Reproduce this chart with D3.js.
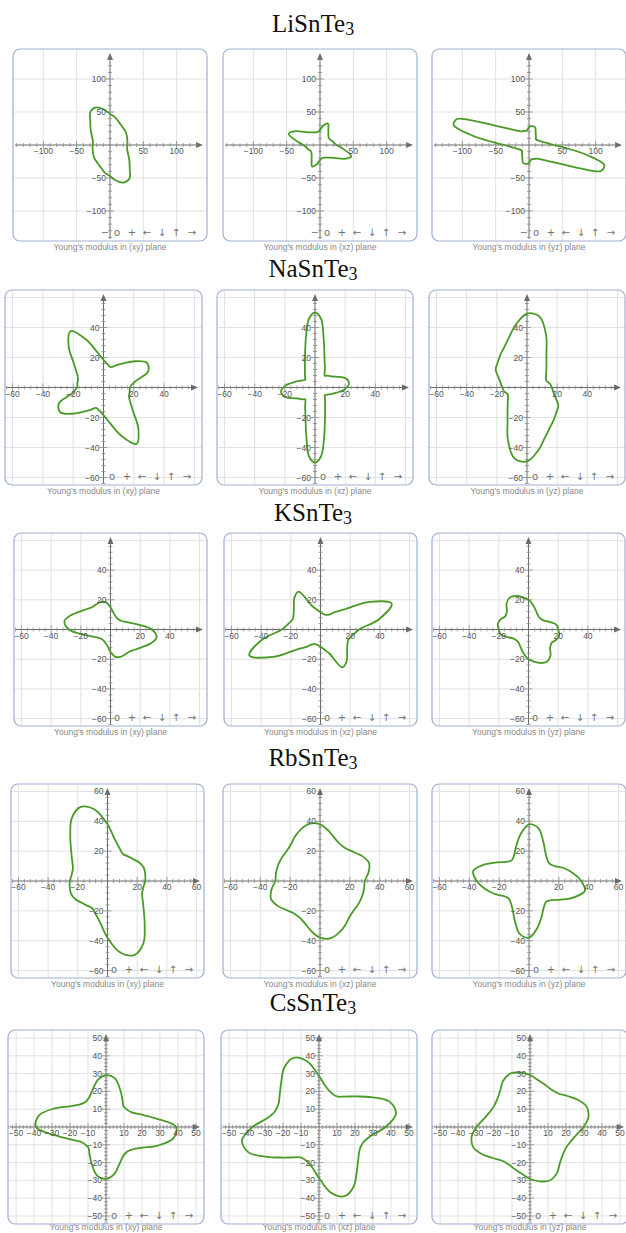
<!DOCTYPE html>
<html><head><meta charset="utf-8">
<script src="https://cdn.jsdelivr.net/npm/d3@7"></script>
<style>body{margin:0;background:#fff}svg{display:block}</style>
</head><body><svg id="fig" width="626" height="1233"></svg>
<script>
// Compounds (formula written as base + subscript "3") and the three planes
const compounds = ["LiSnTe", "NaSnTe", "KSnTe", "RbSnTe", "CsSnTe"];
const planes = ["xy", "xz", "yz"];

// Young's modulus E(θ) in each plane, sampled evenly from θ = 0° up to 180°
// (the sampling step is 180° / length). E(θ + 180°) = E(θ).
const LiSnTe3_xy = [26, 26.5, 27.5, 29, 30.8, 32, 34.3, 37.6, 42.8, 47, 55, 60.5, 58.5, 46, 38, 32, 28, 26];
const LiSnTe3_xz = [25, 21, 19, 17, 17, 19.5, 25, 34.5, 30, 23, 20, 20.5, 22, 25, 31, 42, 50, 36];
const LiSnTe3_yz = [37, 29, 23.4, 19.9, 17.5, 16, 14.7, 13.8, 13.6, 14.5, 16.3, 18, 20, 23.5, 27.7, 29, 29, 28.5,
                    27, 24, 22, 22, 22.5, 23, 24, 26, 28.6, 32.5, 38, 46, 59, 83, 115, 117, 89, 57];
const NaSnTe3_xy = [17.5, 20.6, 31.4, 33, 27.2, 21.2, 17.2, 14.4, 15.7, 18.4, 24, 34.2, 43.5, 35.8, 25.8, 20.6, 17.9, 17.5];
const NaSnTe3_xz = [21, 22.5, 22.6, 21.7, 19.7, 16.8, 14.6, 13, 12.1, 11.2, 10.2, 11, 13, 15.5, 18.6, 24, 33, 46,
                    50, 46, 34.5, 25.2, 19.6, 15.8, 13.4, 11.7, 10.3, 9.3, 8.3, 8.7, 9.5, 10.7, 12.3, 14.1, 16.3, 19.1];
const NaSnTe3_yz = [16.5, 15.3, 13.6, 14.6, 16.7, 20.1, 25.8, 37.1, 48, 49.3, 42.6, 35.2, 30.6, 27.8, 25.5, 24, 20.2, 17.8];
const KSnTe3_xy = [28, 19, 13.5, 10.6, 9.2, 8.7, 8.9, 9.7, 11.4, 15, 18.7, 19.6, 19.5, 19.5, 21.2, 24, 28.3, 31.5];
const KSnTe3_xz = [26, 40, 51, 37, 21, 15.5, 11.6, 10.5, 10.6, 11.6, 13.5, 17, 29.5, 27.5, 23.4, 20.9, 20, 22];
const KSnTe3_yz = [20, 19, 15, 12, 11, 11, 12, 14, 17, 20, 22, 24, 25, 23, 19, 18, 20, 21];
const RbSnTe3_xy = [25.4, 25.8, 26, 24.7, 22.7, 21.5, 20.9, 23.5, 28.3, 38, 48.5, 52.8, 48.3, 39, 32, 27.5, 24.8, 24.5];
const RbSnTe3_xz = [30, 33, 35, 33, 30, 28, 28, 30, 34, 38, 39, 37, 34, 31, 30, 30, 30, 30];
const RbSnTe3_yz = [35, 30, 25, 20, 18, 19, 22, 28, 36, 38, 32, 25, 20, 18, 20, 25, 32, 38];
const CsSnTe3_xy = [39, 28, 20.6, 16.5, 15.2, 15.2, 18.2, 22.7, 27.9, 29.1, 26.7, 22, 19, 18.1, 19.5, 23.3, 30.5, 37.8];
const CsSnTe3_xz = [37, 43.5, 41.7, 33.5, 26.7, 22.3, 19.8, 20.3, 22.8, 28.7, 37.3, 41.4, 38.6, 32.7, 28.5, 26, 26, 29.1];
const CsSnTe3_yz = [29.8, 33, 33.5, 30.7, 27.1, 24.6, 24.1, 25.1, 26.7, 29.2, 31, 32, 29.9, 26, 23.9, 23.2, 24, 26.1];

const modulus = [
  [LiSnTe3_xy, LiSnTe3_xz, LiSnTe3_yz],
  [NaSnTe3_xy, NaSnTe3_xz, NaSnTe3_yz],
  [KSnTe3_xy, KSnTe3_xz, KSnTe3_yz],
  [RbSnTe3_xy, RbSnTe3_xz, RbSnTe3_yz],
  [CsSnTe3_xy, CsSnTe3_xz, CsSnTe3_yz]
];

// Axis extents (half range around the origin) and grid spacing per compound
const axisHalfRange = [145.5, 65, 65, 65, 54.5];
const majorStep = [50, 20, 20, 20, 10];
const xTickLabels = [
  [-100, -50, 50, 100],
  [-60, -40, -20, 20, 40],
  [-60, -40, -20, 20, 40],
  [-60, -40, -20, 20, 40, 60],
  [-50, -40, -30, -20, -10, 10, 20, 30, 40, 50]
];
const yTickLabels = [
  [100, 50, -50, -100],
  [40, 20, -20, -40, -60],
  [40, 20, -20, -40, -60],
  [60, 40, 20, -20, -40, -60],
  [50, 40, 30, 20, 10, -10, -20, -30, -40, -50]
];
// zoom-out button only shows where no tick label sits on it
const navButtonsFull = ["\u2212", "o", "+", "\u2190", "\u2193", "\u2191", "\u2192"];
const navButtonsShort = ["o", "+", "\u2190", "\u2193", "\u2191", "\u2192"];

// ---- layout ----
const titleBaseline = [32, 277, 521, 766, 1011];
const boxes = [
  [[13, 49, 207, 241], [223, 49, 417, 241], [432, 49, 626, 241]],
  [[5, 290, 202, 485], [217, 290, 413, 485], [429, 290, 625, 485]],
  [[14, 533, 207, 726], [224, 533, 417, 726], [432, 533, 625, 726]],
  [[11, 784, 204, 978], [223, 784, 417, 978], [432, 784, 626, 978]],
  [[8, 1030, 204, 1224], [221, 1030, 417, 1224], [432, 1030, 628, 1224]]
];
const navOffsetsFull = [102, 90, 75, 60, 45, 31, 15];
const navOffsetsShort = [90, 75, 60, 45, 31, 15];

const svg = d3.select("#fig");
const fmt = v => (v < 0 ? "\u2212" + Math.abs(v) : String(v));
const sans = "'Liberation Sans', Arial, sans-serif";

compounds.forEach((name, row) => {
  const title = svg.append("text")
    .attr("x", 313).attr("y", titleBaseline[row])
    .attr("text-anchor", "middle")
    .attr("font-family", "'Liberation Serif', 'Times New Roman', serif")
    .attr("font-size", 25).attr("fill", "#111");
  title.append("tspan").text(name);
  title.append("tspan").attr("font-size", 18).attr("dy", 3).text("3");

  planes.forEach((plane, col) => {
    const [x0, y0, x1, y1] = boxes[row][col];
    const h = axisHalfRange[row];
    const step = majorStep[row];
    const x = d3.scaleLinear().domain([-h, h]).range([x0, x1]);
    const y = d3.scaleLinear().domain([-h, h]).range([y1, y0]);
    const cx = x(0), cy = y(0);
    const id = `clip-${row}-${col}`;

    const g = svg.append("g");
    g.append("clipPath").attr("id", id)
      .append("rect").attr("x", x0).attr("y", y0)
      .attr("width", x1 - x0).attr("height", y1 - y0).attr("rx", 7);
    const inner = g.append("g").attr("clip-path", `url(#${id})`);

    // grid
    const gridVals = d3.range(-Math.floor(h / step) * step, h, step).filter(v => v !== 0);
    inner.selectAll(".gx").data(gridVals).join("line")
      .attr("x1", d => x(d)).attr("x2", d => x(d))
      .attr("y1", y0).attr("y2", y1)
      .attr("stroke", "#e2e2e2").attr("stroke-width", 1);
    inner.selectAll(".gy").data(gridVals).join("line")
      .attr("y1", d => y(d)).attr("y2", d => y(d))
      .attr("x1", x0).attr("x2", x1)
      .attr("stroke", "#e2e2e2").attr("stroke-width", 1);

    // axes
    const axisColor = "#6a6a6a";
    inner.append("line").attr("x1", x0 + 2).attr("x2", x1 - 7)
      .attr("y1", cy).attr("y2", cy).attr("stroke", axisColor);
    inner.append("line").attr("x1", cx).attr("x2", cx)
      .attr("y1", y1 - 2).attr("y2", y0 + 7).attr("stroke", axisColor);
    inner.append("path")
      .attr("d", `M${x1 - 4},${cy} L${x1 - 11},${cy - 3} L${x1 - 11},${cy + 3} Z`)
      .attr("fill", axisColor);
    inner.append("path")
      .attr("d", `M${cx},${y0 + 4} L${cx - 3},${y0 + 11} L${cx + 3},${y0 + 11} Z`)
      .attr("fill", axisColor);

    // ticks on the axes
    const minor = step / 5;
    const tickVals = d3.range(-Math.floor(h / minor) * minor, h - 8 / (x(1) - x(0)), minor)
      .filter(v => Math.abs(v) > 1e-9);
    const isMajor = d => Math.abs(d % step) < 1e-6;
    inner.selectAll(".tx").data(tickVals).join("line")
      .attr("x1", d => x(d)).attr("x2", d => x(d))
      .attr("y1", d => cy - (isMajor(d) ? 4 : 2))
      .attr("y2", d => cy + (isMajor(d) ? 4 : 2))
      .attr("stroke", "#8a8a8a").attr("stroke-width", 0.8);
    inner.selectAll(".ty").data(tickVals).join("line")
      .attr("y1", d => y(d)).attr("y2", d => y(d))
      .attr("x1", d => cx - (isMajor(d) ? 4 : 2))
      .attr("x2", d => cx + (isMajor(d) ? 4 : 2))
      .attr("stroke", "#8a8a8a").attr("stroke-width", 0.8);

    // Young's modulus curve
    const vals = modulus[row][col];
    const n = vals.length;
    const pts = vals.concat(vals).map((r, i) => {
      const t = i * Math.PI / n;
      return [r * Math.cos(t), r * Math.sin(t)];
    });
    inner.append("path")
      .attr("d", d3.line().x(d => x(d[0])).y(d => y(d[1]))
        .curve(d3.curveCatmullRomClosed.alpha(0.5))(pts))
      .attr("fill", "none").attr("stroke", "#4a9a28").attr("stroke-width", 1.8);

    // tick labels
    g.selectAll(".lx").data(xTickLabels[row]).join("text")
      .attr("x", d => x(d)).attr("y", cy + 9)
      .attr("text-anchor", "middle")
      .attr("font-family", sans).attr("font-size", 8.5).attr("fill", "#555")
      .text(fmt);
    g.selectAll(".ly").data(yTickLabels[row]).join("text")
      .attr("x", cx - 4).attr("y", d => y(d) + 3)
      .attr("text-anchor", "end")
      .attr("font-family", sans).attr("font-size", 8.5).attr("fill", "#555")
      .text(fmt);

    // navigation bar
    const buttons = row === 0 ? navButtonsFull : navButtonsShort;
    const offsets = row === 0 ? navOffsetsFull : navOffsetsShort;
    g.append("g").attr("opacity", 0.99)
      .selectAll("text").data(buttons).join("text")
      .attr("x", (d, i) => x1 - offsets[i]).attr("y", y1 - 5)
      .attr("text-anchor", "middle")
      .attr("font-family", "'DejaVu Sans', sans-serif")
      .attr("font-size", 10).attr("fill", "#6f6f6f")
      .text(d => d);

    // frame
    g.append("rect").attr("x", x0).attr("y", y0)
      .attr("width", x1 - x0).attr("height", y1 - y0).attr("rx", 7)
      .attr("fill", "none").attr("stroke", "#9fb0d4").attr("stroke-width", 1.2);

    // caption
    g.append("text")
      .attr("x", (x0 + x1) / 2).attr("y", Math.min(y1 + 9, 1230))
      .attr("text-anchor", "middle")
      .attr("font-family", sans)
      .attr("font-size", 8.5).attr("fill", "#888")
      .text(`Young's modulus in (${plane}) plane`);
  });
});
</script>
</body></html>
